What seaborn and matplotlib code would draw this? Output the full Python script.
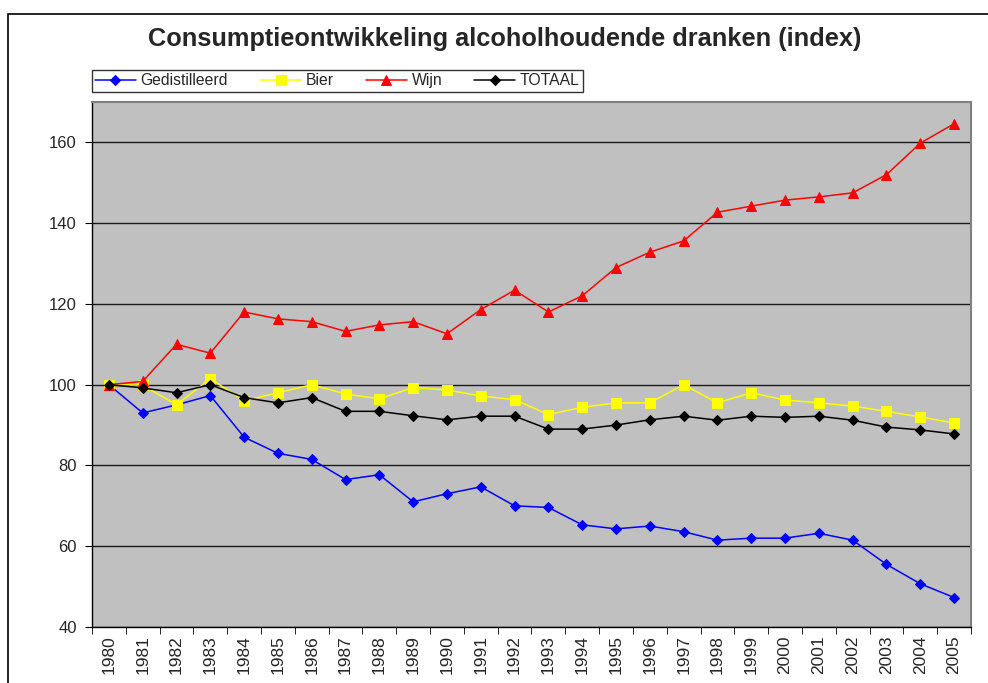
import pandas as pd
import matplotlib
matplotlib.use("Agg")
import matplotlib.pyplot as plt
from matplotlib.patches import Rectangle
import seaborn as sns

# data (index, 1980 = 100)
years = list(range(1980, 2006))
gedistilleerd = [100, 93, 95, 97.3, 87, 83, 81.5, 76.5, 77.7, 71, 73, 74.7, 70,
                 69.6, 65.3, 64.3, 65, 63.6, 61.5, 62, 62, 63.2, 61.5, 55.5, 50.7, 47.3]
bier = [100, 99.9, 95, 101.5, 96, 98, 100, 97.7, 96.5, 99.3, 98.7, 97.2, 96.3,
        92.6, 94.4, 95.5, 95.5, 100, 95.5, 98, 96.2, 95.5, 94.7, 93.4, 92, 90.5]
wijn = [100, 100.8, 110, 107.8, 118, 116.3, 115.6, 113.2, 114.8, 115.6, 112.6, 118.6, 123.4,
        118, 122, 129, 132.8, 135.6, 142.7, 144.2, 145.7, 146.5, 147.5, 152, 159.8, 164.6]
totaal = [100, 99.2, 98, 100, 96.8, 95.5, 96.8, 93.4, 93.4, 92.3, 91.3, 92.2, 92.2,
          89, 89, 90, 91.3, 92.2, 91.2, 92.2, 91.9, 92.2, 91.2, 89.5, 88.8, 87.8]
y_ticks = [40, 60, 80, 100, 120, 140, 160]

series = {"Gedistilleerd": gedistilleerd, "Bier": bier, "Wijn": wijn, "TOTAAL": totaal}
df = pd.DataFrame({"jaar": years, **series}).melt(id_vars="jaar", var_name="soort", value_name="index")

sns.set_style("white")
plt.rcParams["font.family"] = ["Liberation Sans", "DejaVu Sans"]

fig = plt.figure(figsize=(9.88, 6.83), dpi=100)
ax = fig.add_axes([0.0931, 0.082, 0.8897, 0.7687])
ax.set_facecolor("#c0c0c0")

kleuren = {"Gedistilleerd": "#0000ff", "Bier": "#ffff00", "Wijn": "#ff0000", "TOTAAL": "#000000"}
markers = {"Gedistilleerd": "D", "Bier": "s", "Wijn": "^", "TOTAAL": "D"}
sizes = {"Gedistilleerd": 5.5, "Bier": 6.5, "Wijn": 7, "TOTAAL": 5.5}

for naam in series:
    sub = df[df["soort"] == naam]
    sns.lineplot(data=sub, x="jaar", y="index", ax=ax, color=kleuren[naam],
                 marker=markers[naam], markersize=sizes[naam], markeredgecolor=kleuren[naam],
                 linewidth=1.1, label=naam, legend=False)

ax.set_xlim(1979.5, 2005.5)
ax.set_ylim(40, 170)
ax.set_yticks(y_ticks)
ax.grid(axis="y", color="#1a1a1a", linewidth=1)
ax.set_axisbelow(True)

ax.set_xticks(years)
ax.set_xticklabels([str(j) for j in years], rotation=90)
ax.set_xticks([j - 0.5 for j in years] + [2005.5], minor=True)
ax.tick_params(axis="x", which="major", length=0, pad=6, labelsize=12.5)
ax.tick_params(axis="x", which="minor", length=5, direction="out", color="black", bottom=True)
ax.tick_params(axis="y", length=5, direction="out", color="black", left=True, labelsize=12, pad=6)

ax.set_xlabel("")
ax.set_ylabel("")
for kant in ["top", "right"]:
    ax.spines[kant].set_color("#808080")
    ax.spines[kant].set_linewidth(1.5)
for kant in ["left", "bottom"]:
    ax.spines[kant].set_color("black")
    ax.spines[kant].set_linewidth(1)

fig.text(0.511, 0.943, "Consumptieontwikkeling alcoholhoudende dranken (index)",
         ha="center", va="center", fontsize=18.3, fontweight="bold")

handles, labels = ax.get_legend_handles_labels()
leg = fig.legend(handles, labels, loc="lower left", bbox_to_anchor=(0.093, 0.866, 0.497, 0.036),
                 mode="expand", ncol=4, frameon=True, fancybox=False, fontsize=11.3,
                 borderpad=0.2, handlelength=2.6, handletextpad=0.3, columnspacing=1.0,
                 borderaxespad=0)
leg.get_frame().set_edgecolor("black")
leg.get_frame().set_linewidth(1)

fig.patches.append(Rectangle((8 / 988, -0.01), 1.0, 0.9895, transform=fig.transFigure,
                             fill=False, edgecolor="black", linewidth=1.2))

fig.savefig("out.png", dpi=100)
